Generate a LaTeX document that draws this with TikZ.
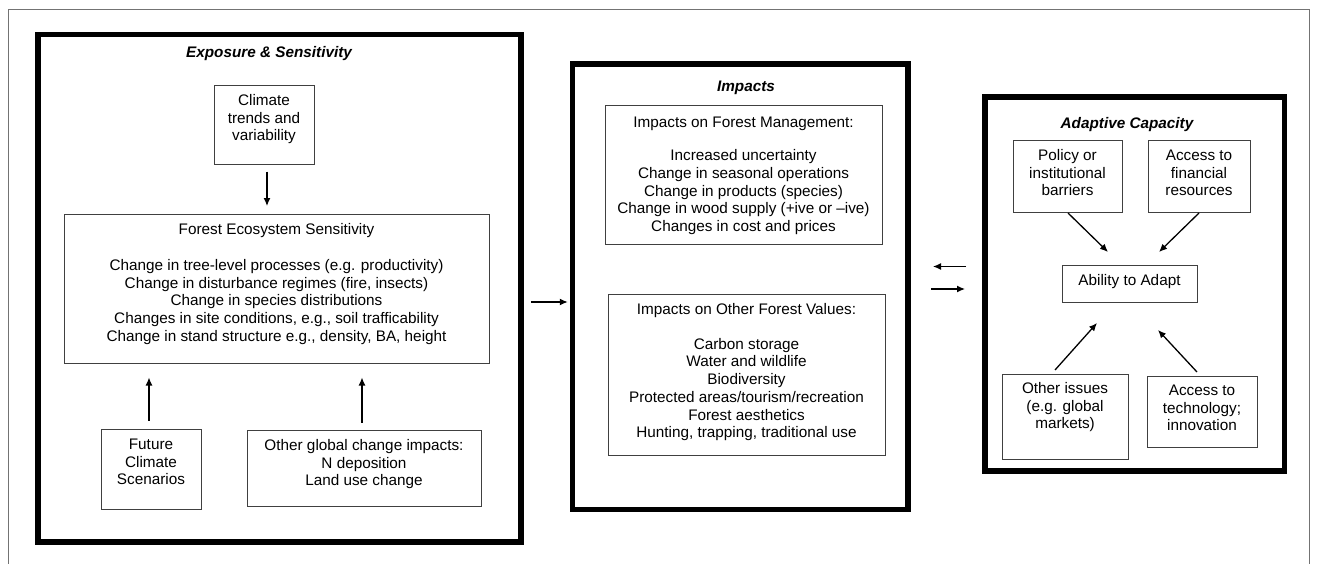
\documentclass[tikz,border=0pt]{standalone}
\usepackage{fontspec}
\newfontfamily\arial{Liberation Sans}
\usetikzlibrary{arrows.meta,calc}
\newcommand\fs{\arial\fontsize{15.3}{17.7}\selectfont}
\begin{document}
\begin{tikzpicture}[x=1pt,y=-1pt,
  frame/.style={draw=black, line width=5.5pt, inner sep=0pt},
  box/.style={draw=black!75, line width=1pt, inner sep=0pt},
  txt/.style={anchor=north, inner sep=0pt, align=center, font=\fs},
  ttl/.style={anchor=base, inner sep=0pt, font=\fs\bfseries\itshape},
  arr/.style={-{Latex[length=8pt,width=7pt]}, line width=1.3pt, draw=black}]
\useasboundingbox (0,0) rectangle (1318,563);
\fill[white] (0,0) rectangle (1318,563);
% outer thin frame
\draw[black!55, line width=1pt] (8,580) -- (8,9) -- (1309,9) -- (1309,580);

% big frames
\node[frame, minimum width=483pt, minimum height=507.5pt] (es) at (279.5,288.25) {};
\node[frame, minimum width=335.5pt, minimum height=445.5pt] (imp) at (740.25,286.75) {};
\node[frame, minimum width=299.5pt, minimum height=374pt] (ac) at (1134.75,284) {};

% titles
\node[ttl] (es-t) at (269,57.5) {Exposure \& Sensitivity};
\node[ttl] (imp-t) at (746,91.5) {Impacts};
\node[ttl] (ac-t) at (1127,128.5) {Adaptive Capacity};

% boxes
\node[box, minimum width=100pt, minimum height=79pt] (clim) at (264,124.5) {};
\node[box, minimum width=425pt, minimum height=149pt] (fes) at (276.5,288.5) {};
\node[box, minimum width=100pt, minimum height=80pt] (fut) at (151,469) {};
\node[box, minimum width=234pt, minimum height=76pt] (ogc) at (364,468) {};
\node[box, minimum width=277pt, minimum height=139pt] (mgmt) at (743.5,174.5) {};
\node[box, minimum width=277pt, minimum height=161pt] (ofv) at (746.5,374.5) {};
\node[box, minimum width=109pt, minimum height=72pt] (pol) at (1067.5,176) {};
\node[box, minimum width=102pt, minimum height=72pt] (acf) at (1199,176) {};
\node[box, minimum width=135pt, minimum height=37pt] (abl) at (1129.5,283.5) {};
\node[box, minimum width=126pt, minimum height=85pt] (oth) at (1065,416.5) {};
\node[box, minimum width=110pt, minimum height=71pt] (tec) at (1202,411.5) {};

% texts
\node[txt] (clim-x) at (264,93) {\strut Climate\\trends and\\variability};
\node[txt] (fes-x) at (276.5,222) {\strut Forest Ecosystem Sensitivity\\[18.3pt]
  Change in tree-level processes (e.g. productivity)\\
  Change in disturbance regimes (fire, insects)\\
  Change in species distributions\\
  Changes in site conditions, e.g., soil trafficability\\
  Change in stand structure e.g., density, BA, height};
\node[txt] (fut-x) at (151,437) {\strut Future\\Climate\\Scenarios};
\node[txt] (ogc-x) at (364,438) {\strut Other global change impacts:\\N deposition\\Land use change};
\node[txt] (mgmt-x) at (743.5,115) {\strut Impacts on Forest Management:\\[15.6pt]
  Increased uncertainty\\
  Change in seasonal operations\\
  Change in products (species)\\
  Change in wood supply (+ive or –ive)\\
  Changes in cost and prices};
\node[txt] (ofv-x) at (746.5,302) {\strut Impacts on Other Forest Values:\\[17pt]
  Carbon storage\\
  Water and wildlife\\
  Biodiversity\\
  Protected areas/tourism/recreation\\
  Forest aesthetics\\
  Hunting, trapping, traditional use};
\node[txt] (pol-x) at (1067.5,148) {\strut Policy or\\institutional\\barriers};
\node[txt] (acf-x) at (1199,148) {\strut Access to\\financial\\resources};
\node[txt] (abl-x) at (1129.5,273) {\strut Ability to Adapt};
\node[txt] (oth-x) at (1065,381) {\strut Other issues\\(e.g. global\\markets)};
\node[txt] (tec-x) at (1202,383) {\strut Access to\\technology;\\innovation};

% arrows
\draw[arr] ($(clim.south)+(3,7)$) -- ($(fes.north)+(-9.5,-7.5)$);
\draw[arr] ($(fut.north)+(-2,-8)$) -- ($(fes.south)+(-127.5,14)$);
\draw[arr] ($(ogc.north)+(-2,-7)$) -- ($(fes.south)+(85.5,14)$);
\draw[arr] ($(es.east)+(7,13.75)$) -- ($(imp.west)+(-2,15.25)$);
\draw[arr] ($(ac.west)+(-16.25,-17.5)$) -- ($(imp.east)+(22.25,-20.25)$);
\draw[arr] ($(imp.east)+(20.25,2.25)$) -- ($(ac.west)+(-17.25,5)$);
\draw[arr] ($(pol.south)+(0.5,0.5)$) -- ($(abl.north)+(-21.5,-12.5)$);
\draw[arr] ($(acf.south)+(0,0.5)$) -- ($(abl.north)+(29.5,-12.5)$);
\draw[arr] ($(oth.north)+(-10,-3.5)$) -- ($(abl.south)+(-32.5,20.5)$);
\draw[arr] ($(tec.north)+(-5,-3.5)$) -- ($(abl.south)+(28.5,27.5)$);
\end{tikzpicture}
\end{document}
